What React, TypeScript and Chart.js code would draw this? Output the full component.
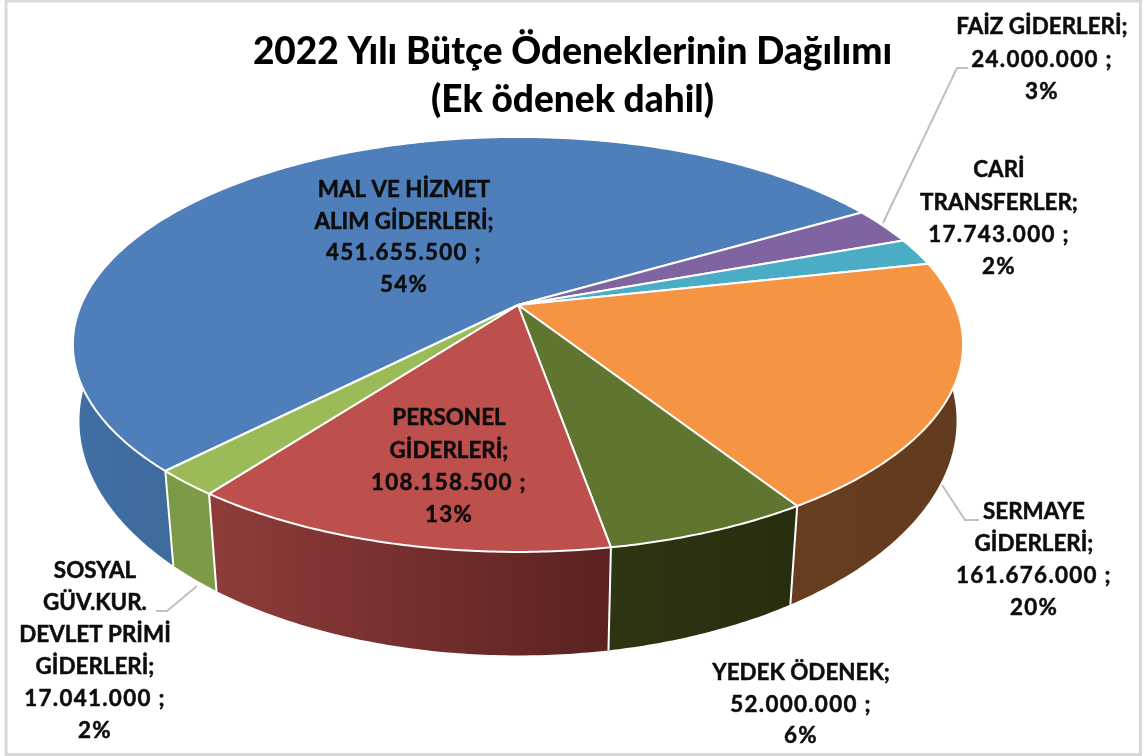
import React, { useEffect, useRef } from "react";
import { Chart, registerables } from "chart.js";

Chart.register(...registerables);

const titleLines = ["2022 Yılı Bütçe Ödeneklerinin Dağılımı", "(Ek ödenek dahil)"];
const categories = [
  "MAL VE HİZMET ALIM GİDERLERİ",
  "FAİZ GİDERLERİ",
  "CARİ TRANSFERLER",
  "SERMAYE GİDERLERİ",
  "YEDEK ÖDENEK",
  "PERSONEL GİDERLERİ",
  "SOSYAL GÜV.KUR. DEVLET PRİMİ GİDERLERİ",
];
const budgetValues = [451655500, 24000000, 17743000, 161676000, 52000000, 108158500, 17041000];
const percentLabels = ["54%", "3%", "2%", "20%", "6%", "13%", "2%"];
const nameLines = [
  ["MAL VE HİZMET", "ALIM GİDERLERİ;"],
  ["FAİZ GİDERLERİ;"],
  ["CARİ", "TRANSFERLER;"],
  ["SERMAYE", "GİDERLERİ;"],
  ["YEDEK ÖDENEK;"],
  ["PERSONEL", "GİDERLERİ;"],
  ["SOSYAL", "GÜV.KUR.", "DEVLET PRİMİ", "GİDERLERİ;"],
];
const topColors = ["#4E7FBB", "#8064A2", "#4BACC6", "#F59544", "#5F7530", "#BD4F4C", "#9BBB59"];
const wallColors = [
  ["#416FA4", "#3E6A9C"],
  ["#5A4672", "#5A4672"],
  ["#34788A", "#34788A"],
  ["#683D1F", "#623A1D"],
  ["#2D3512", "#272E0F"],
  ["#8F3C3A", "#5A2221"],
  ["#7A9A45", "#7F9B49"],
];

// Layout of the picture (not data)
const labelLayout = [
  { x: 404, y: 190, gap: 31.5 },
  { x: 1042, y: 27, gap: 32.5 },
  { x: 999, y: 170, gap: 32.3 },
  { x: 1034, y: 512, gap: 32 },
  { x: 801, y: 673, gap: 31.5 },
  { x: 449, y: 418, gap: 32.3 },
  { x: 95, y: 571, gap: 32 },
];
const leaders = [
  [[883, 223], [957, 68], [968, 68]],
  [[942, 485], [965, 520], [979, 520]],
  [[197, 586], [167, 611], [156, 611]],
];
const GEO = { cx: 518, cy: 305, S: 437, k: 200, p: 0.19, wallSx: 0.973, wallSxSide: 0.015, wallSy: 1.067, wallDy: 87, wallDySide: 12 };

const top = (t: number) => {
  const x = Math.cos(t), y = Math.sin(t), w = 1 - GEO.p * y;
  return { x: (GEO.S * x) / w, y: (GEO.k * y) / w };
};
const rimTop = (t: number): [number, number] => {
  const q = top(t);
  return [GEO.cx + q.x, GEO.cy + q.y];
};
const rimBottom = (t: number): [number, number] => {
  const q = top(t);
  const side = 1 - Math.sin(t);
  return [
    GEO.cx + q.x * (GEO.wallSx + GEO.wallSxSide * side),
    GEO.cy + q.y * GEO.wallSy + GEO.wallDy - GEO.wallDySide * side,
  ];
};
const sweep = (a: number, b: number) => {
  const n = Math.max(4, Math.ceil((b - a) / 0.01));
  return Array.from({ length: n + 1 }, (_, i) => a + ((b - a) * i) / n);
};
const formatValue = (v: number) => String(v).replace(/\B(?=(\d{3})+(?!\d))/g, ".") + " ;";

const perspectivePie = {
  id: "perspectivePie",
  beforeDatasetsDraw(chart: any) {
    const ctx: CanvasRenderingContext2D = chart.ctx;
    const arcs = chart.getDatasetMeta(0).data as any[];
    const order = arcs
      .map((a, i) => ({ a, i, s: Math.sin((a.startAngle + a.endAngle) / 2) }))
      .sort((u, v) => u.s - v.s);
    ctx.save();
    // walls
    for (const { a, i } of order) {
      const ts = sweep(a.startAngle, a.endAngle);
      const vis = ts.filter((t) => Math.sin(t) > -0.1);
      const xs = (vis.length ? vis : ts).map((t) => rimTop(t)[0]);
      const g = ctx.createLinearGradient(Math.min(...xs), 0, Math.max(...xs), 0);
      g.addColorStop(0, wallColors[i][0]);
      g.addColorStop(1, wallColors[i][1]);
      ctx.beginPath();
      ts.forEach((t, n) => {
        const [x, y] = rimTop(t);
        n ? ctx.lineTo(x, y) : ctx.moveTo(x, y);
      });
      [...ts].reverse().forEach((t) => {
        const [x, y] = rimBottom(t);
        ctx.lineTo(x, y);
      });
      ctx.closePath();
      ctx.fillStyle = g;
      ctx.fill();
    }
    // wall separators
    ctx.strokeStyle = "#FFFFFF";
    ctx.lineWidth = 2;
    for (const a of arcs) {
      if (Math.sin(a.startAngle) <= 0) continue;
      const [x0, y0] = rimTop(a.startAngle);
      const [x1, y1] = rimBottom(a.startAngle);
      ctx.beginPath();
      ctx.moveTo(x0, y0);
      ctx.lineTo(x1, y1);
      ctx.stroke();
    }
    // top faces
    arcs.forEach((a, i) => {
      ctx.beginPath();
      ctx.moveTo(GEO.cx, GEO.cy);
      sweep(a.startAngle, a.endAngle).forEach((t) => {
        const [x, y] = rimTop(t);
        ctx.lineTo(x, y);
      });
      ctx.closePath();
      ctx.fillStyle = topColors[i];
      ctx.fill();
      ctx.strokeStyle = "#FFFFFF";
      ctx.lineWidth = 2;
      ctx.lineJoin = "round";
      ctx.stroke();
    });
    ctx.restore();
    return false;
  },
  afterDraw(chart: any) {
    const ctx: CanvasRenderingContext2D = chart.ctx;
    ctx.save();
    ctx.strokeStyle = "#D9D9D9";
    ctx.lineWidth = 3;
    ctx.strokeRect(6, 1, 1134.5, 753.5);
    ctx.strokeStyle = "#BFBFBF";
    ctx.lineWidth = 2;
    for (const path of leaders) {
      ctx.beginPath();
      path.forEach(([x, y], n) => (n ? ctx.lineTo(x, y) : ctx.moveTo(x, y)));
      ctx.stroke();
    }
    ctx.fillStyle = "#0D0D0D";
    ctx.strokeStyle = "#0D0D0D";
    ctx.lineWidth = 0.5;
    ctx.font = "bold 22.4px Lato";
    ctx.textAlign = "center";
    ctx.textBaseline = "middle";
    categories.forEach((_, i) => {
      const names = nameLines[i];
      const lines = [...names, formatValue(budgetValues[i]), percentLabels[i]];
      const { x, y, gap } = labelLayout[i];
      lines.forEach((l, n) => {
        (ctx as any).letterSpacing = n >= names.length ? "1.3px" : "0px";
        ctx.fillText(l, x, y + gap * n);
        ctx.strokeText(l, x, y + gap * n);
      });
    });
    ctx.restore();
  },
};

export default function App() {
  const ref = useRef<HTMLCanvasElement>(null);
  useEffect(() => {
    document.body.style.margin = "0";
    const chart = new Chart(ref.current!, {
      type: "pie",
      data: { labels: categories, datasets: [{ data: budgetValues, backgroundColor: topColors }] },
      options: {
        responsive: false,
        animation: false,
        rotation: 224.2,
        plugins: {
          legend: { display: false },
          tooltip: { enabled: false },
          title: {
            display: true,
            text: titleLines,
            color: "#000000",
            font: { family: "Lato", weight: "900", size: 37, lineHeight: 1.3 },
            padding: { top: 28, bottom: 0 },
          },
        },
      },
      plugins: [perspectivePie],
    } as any);
    return () => chart.destroy();
  }, []);
  return <canvas ref={ref} width={1145} height={756} style={{ display: "block", width: 1145, height: 756, filter: "blur(0.45px)" }} />;
}
